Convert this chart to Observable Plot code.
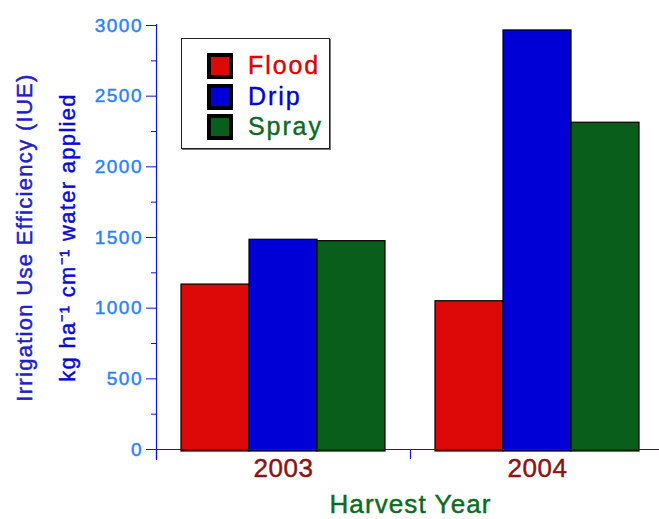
<!DOCTYPE html>
<html><head><meta charset="utf-8">
<script src="https://cdn.jsdelivr.net/npm/d3@7"></script>
<script src="https://cdn.jsdelivr.net/npm/@observablehq/plot@0.6"></script>
<style>
html,body{margin:0;padding:0;overflow:hidden;background:#fff;}
#wrap{position:relative;width:659px;height:519px;overflow:hidden;}
#wrap svg{display:block;max-width:none !important;}
#wrap svg text{font-family:"Liberation Sans",Arial,sans-serif;}
.legend{position:absolute;left:181px;top:38px;width:147px;height:109px;border:1px solid #222;box-shadow:1px 1px 0 #777;background:#fff;font-family:"Liberation Sans",Arial,sans-serif;}
.legend .item{position:absolute;left:25px;height:26px;}
.legend .sw{position:absolute;left:0;top:0;width:18px;height:18px;border:4px solid #000;}
.legend .lab{position:absolute;left:41px;top:-3px;font-size:25px;letter-spacing:1.9px;line-height:30px;white-space:nowrap;-webkit-text-stroke:0.4px currentColor;}
</style></head><body><div id="wrap"></div>
<script>
const years = ["2003", "2004"];
const types = ["Flood", "Drip", "Spray"];
const flood = [1167, 1049];
const drip = [1484, 2965];
const spray = [1474, 2312];
const yMajor = [0, 500, 1000, 1500, 2000, 2500, 3000];
const yMinor = [250, 750, 1250, 1750, 2250, 2750];
const xTitle = "Harvest Year";
const yTitle1 = "Irrigation Use Efficiency (IUE)";
const yTitle2 = "kg ha\u207B\u00B9 cm\u207B\u00B9 water applied";
const barColors = ["#dd0808", "#0000d6", "#085e1a"];
const textColors = ["#e00000", "#0000d8", "#0a6a24"];

const series = [flood, drip, spray];
const data = [];
years.forEach((yr, i) => types.forEach((t, j) => data.push({year: yr, type: t, value: series[j][i]})));

const axisBlue = "#1010e0";
const chart = Plot.plot({
  width: 664, height: 519,
  marginLeft: 156, marginRight: 0, marginTop: 25, marginBottom: 70,
  style: {background: "white", overflow: "visible", maxWidth: "none"},
  fx: {domain: years, paddingInner: 0, paddingOuter: 0, label: null},
  x: {domain: types, paddingInner: 0, paddingOuter: 0.36, axis: null},
  y: {domain: [0, 3000], axis: null},
  color: {domain: types, range: barColors},
  marks: [
    Plot.barY(data, {fx: "year", x: "type", y: "value", fill: "type", stroke: "#000", strokeWidth: 1.2, insetBottom: -2}),
    Plot.ruleY([0], {stroke: axisBlue, strokeWidth: 1.2, insetLeft: -6}),
    Plot.frame({anchor: "left", facetAnchor: "left", stroke: axisBlue, strokeWidth: 1.2, insetBottom: -10, insetTop: -1}),
    Plot.axisY({ticks: yMajor, tickSize: 10, tickPadding: 3.5, stroke: axisBlue, fill: "#2b80ff", fontSize: 19, tickFormat: d => String(d), label: null}),
    Plot.axisY({ticks: yMinor, tickSize: 5, stroke: axisBlue, text: null, label: null}),
    Plot.axisFx({anchor: "bottom", text: null, tickSize: 10, dx: -127, stroke: axisBlue, strokeWidth: 1.2, label: null}),
    Plot.axisFx({anchor: "bottom", tickSize: 0, tickPadding: 9, fill: "#8a1414", fontSize: 26, label: null}),
    Plot.text([xTitle], {facet: "super", frameAnchor: "bottom", lineAnchor: "bottom", dy: 63, fill: "#0c6b22", fontSize: 26}),
    Plot.text([yTitle1], {facet: "super", frameAnchor: "left", textAnchor: "middle", rotate: -90, dx: -132, fill: "#2020c8", fontSize: 22}),
    Plot.text([yTitle2], {facet: "super", frameAnchor: "left", textAnchor: "middle", rotate: -90, dx: -89, fill: "#0a0ad8", fontSize: 22})
  ]
});
const wrap = document.getElementById("wrap");
wrap.appendChild(chart);

// text tracking and weight, to match the reference's spaced, heavier lettering
const spacing = new Map([[xTitle, 1.1], [yTitle1, 1.3], [yTitle2, 1.3]]);
years.forEach(y => spacing.set(y, 0.5));
yMajor.forEach(v => spacing.set(String(v), 1.5));
chart.querySelectorAll("text").forEach(t => {
  const s = t.textContent;
  if (spacing.has(s)) t.style.letterSpacing = spacing.get(s) + "px";
  let fill = t.getAttribute("fill") || (t.parentNode && t.parentNode.getAttribute("fill")) || "currentColor";
  t.style.stroke = fill;
  t.style.strokeWidth = "0.45px";
});

const legend = document.createElement("div");
legend.className = "legend";
types.forEach((t, i) => {
  const item = document.createElement("div");
  item.className = "item";
  item.style.top = (14 + i * 30.5) + "px";
  const sw = document.createElement("div");
  sw.className = "sw";
  sw.style.background = barColors[i];
  const lab = document.createElement("div");
  lab.className = "lab";
  lab.style.color = textColors[i];
  lab.textContent = t;
  item.appendChild(sw); item.appendChild(lab);
  legend.appendChild(item);
});
wrap.appendChild(legend);
</script></body></html>
